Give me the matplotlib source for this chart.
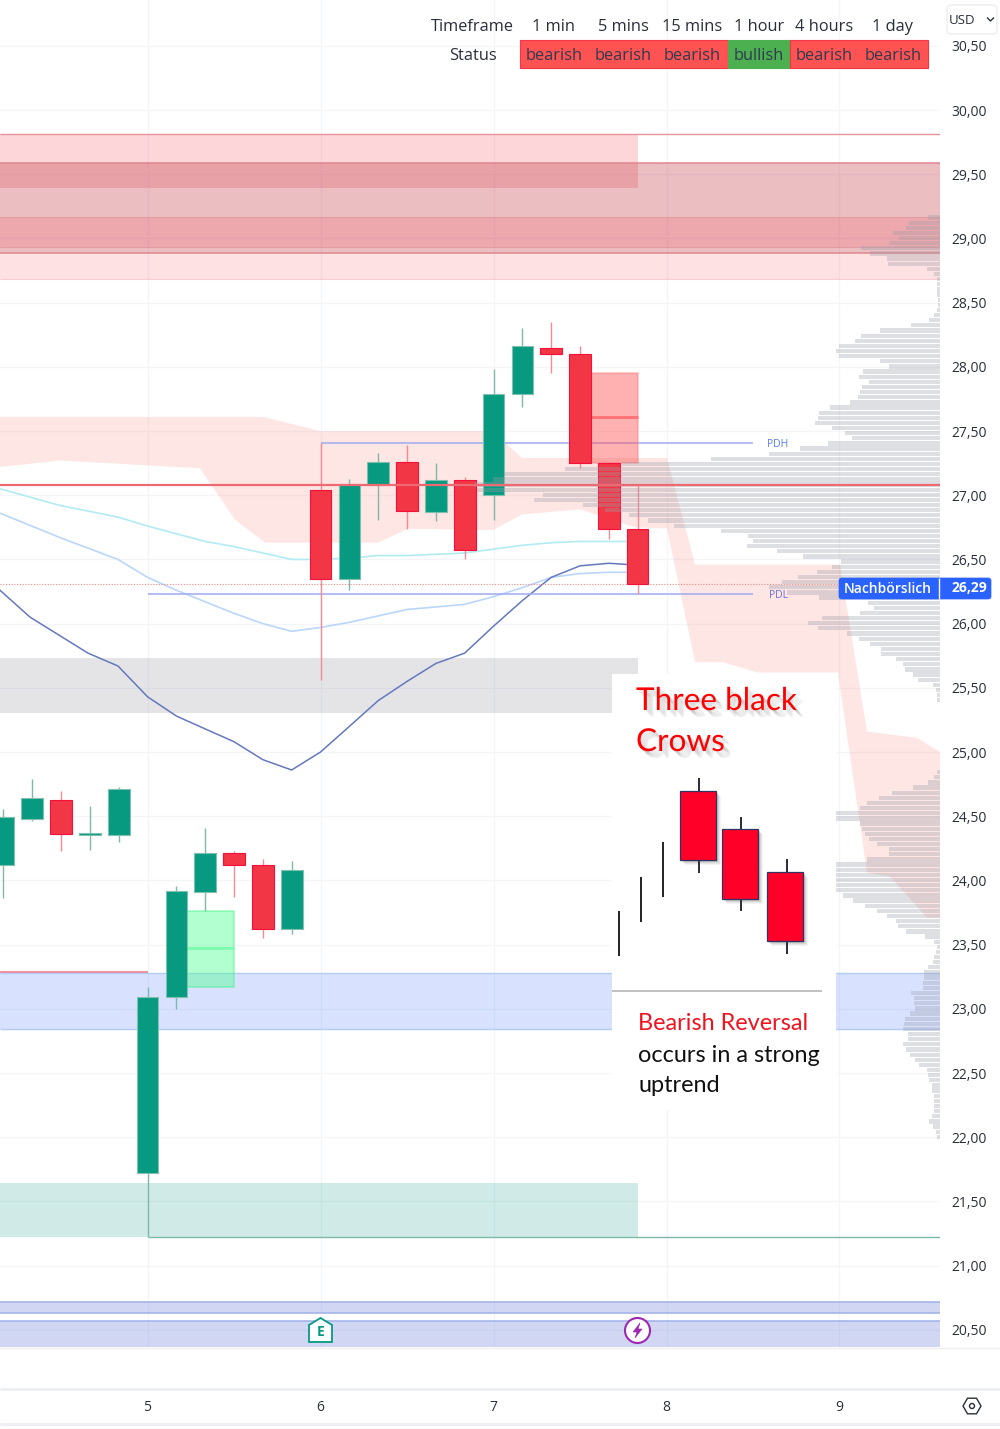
import numpy as np
import matplotlib
matplotlib.use("Agg")
import matplotlib.pyplot as plt
import matplotlib.patheffects as pe
from matplotlib.patches import Rectangle, FancyBboxPatch, Circle, Polygon, RegularPolygon

plt.rcParams['font.family'] = ['Open Sans', 'DejaVu Sans']

# candles, 6 bars per day, index 0 sits on day 5
candle_idx = np.arange(-5, 18)
opens = [24.12, 24.48, 24.63, 24.35, 24.35, 21.72, 23.09, 23.91, 24.21, 24.12, 23.62, 27.04,
         26.35, 27.08, 27.26, 26.87, 27.12, 27.00, 27.79, 28.15, 28.10, 27.25, 26.74]
highs = [24.56, 24.79, 24.70, 24.58, 24.73, 23.17, 23.96, 24.41, 24.23, 24.17, 24.15, 27.41,
         27.13, 27.33, 27.39, 27.25, 27.14, 27.98, 28.30, 28.35, 28.16, 27.25, 27.08]
lows = [23.86, 24.46, 24.23, 24.24, 24.30, 21.22, 23.00, 23.76, 23.87, 23.55, 23.58, 25.56,
        26.26, 26.81, 26.74, 26.80, 26.50, 26.81, 27.69, 27.95, 27.21, 26.66, 26.23]
closes = [24.49, 24.64, 24.36, 24.37, 24.71, 23.09, 23.92, 24.21, 24.12, 23.62, 24.08, 26.35,
          27.09, 27.26, 26.88, 27.12, 26.57, 27.79, 28.16, 28.10, 27.25, 26.74, 26.31]

# moving averages
ma_x = [4.147, 4.494, 4.829, 5.0, 5.167, 5.333, 5.5, 5.667, 5.833, 6.0, 6.167, 6.333,
        6.5, 6.667, 6.833, 7.0, 7.167, 7.333, 7.5, 7.667, 7.78]
ma_cyan = [27.05, 26.92, 26.83, 26.76, 26.70, 26.64, 26.60, 26.55, 26.50, 26.50, 26.51, 26.53,
           26.53, 26.54, 26.55, 26.58, 26.61, 26.63, 26.64, 26.64, 26.64]
ma_light = [26.86, 26.67, 26.50, 26.36, 26.26, 26.17, 26.08, 26.00, 25.94, 25.97, 26.01, 26.06,
            26.11, 26.13, 26.15, 26.21, 26.28, 26.36, 26.39, 26.40, 26.40]
ma_dark_x = [4.147, 4.321, 4.656, 4.829, 5.0, 5.167, 5.333, 5.5, 5.667, 5.833, 6.0, 6.167,
             6.333, 6.5, 6.667, 6.833, 7.0, 7.167, 7.333, 7.5, 7.667, 7.78]
ma_dark = [26.26, 26.05, 25.77, 25.67, 25.43, 25.28, 25.18, 25.08, 24.94, 24.86, 25.00, 25.20,
           25.40, 25.55, 25.69, 25.77, 25.98, 26.18, 26.36, 26.45, 26.47, 26.46]

# cloud outline
cloud_top_x = [4.147, 5.668, 5.997, 6.997, 7.066, 7.165, 8.003, 8.165, 9.003, 9.159, 9.448, 9.581]
cloud_top_y = [27.61, 27.61, 27.50, 27.50, 27.41, 27.29, 27.29, 26.46, 26.46, 25.16, 25.11, 25.00]
cloud_low_x = [4.147, 4.494, 4.899, 5.303, 5.506, 5.679, 6.332, 6.506, 6.835, 6.997, 7.165, 7.5,
               7.818, 8.003, 8.165, 8.327, 8.524, 8.991, 9.159, 9.292, 9.506, 9.581]
cloud_low_y = [27.22, 27.27, 27.24, 27.21, 26.81, 26.63, 26.63, 26.74, 26.73, 26.73, 26.85, 26.89,
               26.75, 26.74, 25.70, 25.70, 25.62, 25.62, 24.06, 24.03, 23.71, 23.71]

# volume profile, one value per level from vp_top downwards
vp_top = 29.163
vp_step = 0.04
vp_volume = [12, 31, 34, 47, 41, 51, 79, 70, 53, 52, 13, 6, 3, 3, 3, 3, 2, 2, 3, 6, 11,
             29, 60, 79, 85, 101, 104, 101, 60, 51, 77, 81, 71, 78, 80, 82, 90, 110, 121, 122, 125,
             108, 95, 88, 112, 140, 171, 229, 318, 375, 436, 447, 466, 463, 397, 406, 357, 335, 311,
             292, 266, 219, 192, 187, 193, 163, 137, 99, 108, 123, 142, 158, 171, 153, 121, 72, 66,
             80, 118, 132, 122, 93, 81, 70, 59, 59, 44, 37, 35, 27, 22, 7, 4, 3, 3,
             0, 0, 0, 0, 0, 0, 0, 0, 0, 0, 0, 0, 0,
             3, 6, 12, 27, 48, 61, 73, 80, 112, 112, 80, 78, 75, 71, 63, 51, 51, 73, 110, 110, 110,
             108, 106, 106, 97, 87, 75, 63, 53, 44, 42, 34, 15, 6, 3, 4, 6, 7, 12, 16, 16, 17, 17,
             29, 26, 26, 25, 30, 35, 36, 37, 32, 32, 37, 34, 30, 25, 21, 13, 12, 11, 8, 8, 6, 6, 6,
             6, 8, 11, 7, 4, 3]

# table at the top
table_head = ["1 min", "5 mins", "15 mins", "1 hour", "4 hours", "1 day"]
table_status = ["bearish", "bearish", "bearish", "bullish", "bearish", "bearish"]

y_ticks = [20.5, 21.0, 21.5, 22.0, 22.5, 23.0, 23.5, 24.0, 24.5, 25.0, 25.5, 26.0, 26.5, 27.0,
           27.5, 28.0, 28.5, 29.0, 29.5, 30.0, 30.5]
x_ticks = [5, 6, 7, 8, 9]

# small picture of the pattern, in panel units
stick_x = [618.7, 641, 663]
stick_top = [911, 877, 842]
stick_low = [956, 922, 897]
crow_x = [698, 739.7, 785.3]
crow_top = [791, 829, 871.7]
crow_low = [860, 898.7, 941]
crow_wick_x = [699, 741, 786.7]
crow_wick_top = [778, 816.7, 859]
crow_wick_low = [873, 911, 953.7]

GREEN = '#089981'
RED = '#F23645'

fig = plt.figure(figsize=(10, 14.29), dpi=100)
ax = fig.add_axes([0, 82 / 1429, 0.94, 1347 / 1429])
ax.set_xlim(4.147, 9.581)
ax.set_ylim(20.366, 30.857)
for s in ax.spines.values():
    s.set_visible(False)

ax.set_xticks(x_ticks)
ax.set_xticklabels([str(t) for t in x_ticks])
ax.set_yticks(y_ticks)
ax.set_yticklabels([f"{t:.2f}".replace('.', ',') for t in y_ticks])
ax.yaxis.tick_right()
ax.tick_params(axis='y', length=0, pad=8.5, labelsize=10, labelcolor='#2a2e39')
ax.tick_params(axis='x', length=0, pad=38, labelsize=10, labelcolor='#2a2e39')
ax.grid(True, color='#F4F5F8', lw=0.9, zorder=0)
ax.set_axisbelow(True)

# supply zones
ax.fill_between([4.147, 7.835], 29.39, 29.817, color='#F23645', alpha=0.2, lw=0, zorder=1)
ax.fill_between([4.147, 9.581], 28.886, 29.587, color='#C02838', alpha=0.3, lw=0, zorder=1)
ax.fill_between([4.147, 9.581], 28.933, 29.167, color='#F23645', alpha=0.16, lw=0, zorder=1)
ax.fill_between([4.147, 9.581], 28.684, 28.886, color='#F23645', alpha=0.15, lw=0, zorder=1)
ax.hlines([29.817], 4.147, 9.581, color='#E8929A', lw=1, zorder=1.2)
ax.hlines([29.587, 28.886], 4.147, 9.581, color='#E0868E', lw=1.1, zorder=1.2)
ax.hlines([29.167, 28.933], 4.147, 9.581, color='#E29CA2', lw=0.8, zorder=1.2)
ax.hlines([28.684], 4.147, 9.581, color='#F8CCD0', lw=0.8, zorder=1.2)

# other zones
ax.fill_between([4.147, 7.835], 25.304, 25.732, color='#787B86', alpha=0.2, lw=0, zorder=1)
ax.fill_between([4.147, 9.581], 22.843, 23.279, color='#2962FF', alpha=0.18, lw=0, zorder=1)
ax.hlines([23.279, 22.843], 4.147, 9.581, color='#B3C9F6', lw=1, zorder=1.2)
ax.hlines([23.29], 4.147, 5.0, color='#EE7C95', lw=1.2, zorder=1.2)
ax.fill_between([4.147, 7.835], 21.223, 21.643, color='#089981', alpha=0.19, lw=0, zorder=1)
ax.hlines([21.223], 5.0, 9.581, color='#7FB8A8', lw=1, zorder=2)
ax.fill_between([4.147, 9.581], 20.628, 20.719, color='#3F5BD0', alpha=0.24, lw=0, zorder=1)
ax.fill_between([4.147, 9.581], 20.366, 20.571, color='#3F5BD0', alpha=0.24, lw=0, zorder=1)
ax.hlines([20.719, 20.628, 20.571], 4.147, 9.581, color='#A5B5EA', lw=1.2, zorder=1.2)

# cloud
ax.fill(cloud_top_x + cloud_low_x[::-1], cloud_top_y + cloud_low_y[::-1],
        color='#F8665C', alpha=0.16, lw=0, zorder=1.5)

# moving averages
ax.plot(ma_x, ma_cyan, color='#B2EBF2', lw=1.2, zorder=2)
ax.plot(ma_x, ma_light, color='#BBD6FB', lw=1.2, zorder=2)
ax.plot(ma_dark_x, ma_dark, color='#6478BE', lw=1.1, zorder=2)

# PDH / PDL
ax.hlines([27.41], 6.0, 8.5, color='#A0AAF0', lw=1.1, zorder=2)
ax.hlines([26.23], 5.0, 8.5, color='#A0AAF0', lw=1.1, zorder=2)
ax.text(8.645, 27.395, "PDH", color='#5B7CF0', fontsize=7.5, ha='center', va='center', zorder=6)
ax.text(8.645, 26.22, "PDL", color='#6A6FE0', fontsize=7.5, ha='center', va='center', zorder=6)
ax.hlines([26.31], 4.147, 9.0, color='#E88A8A', lw=0.8, linestyles=(0, (1, 1.5)), zorder=2)

# fair value boxes
ax.add_patch(Rectangle((7.5, 27.25), 0.335, 0.70, fc='#FF5252', ec='#FF7A80', alpha=0.45, lw=1.2, zorder=2.5))
ax.hlines([27.61], 7.5, 7.835, color='#FF6F75', lw=2, zorder=2.6)
ax.add_patch(Rectangle((5.23, 23.17), 0.27, 0.59, fc='#4DFF91', ec='#33F57E', alpha=0.43, lw=1.2, zorder=2.5))
ax.hlines([23.47], 5.23, 5.5, color='#7BFBAD', lw=2, zorder=2.6)

# candles
x_pos = 5 + candle_idx / 6
o = np.array(opens)
c = np.array(closes)
up = c >= o
wick_col = ['#7FB8A8' if u else '#F58A95' for u in up]
ax.vlines(x_pos, lows, highs, colors=wick_col, lw=1.0, zorder=3)
ax.bar(x_pos, np.abs(c - o), bottom=np.minimum(o, c), width=0.125,
       color=[GREEN if u else RED for u in up],
       edgecolor=['#7FBFAE' if u else '#F5103A' for u in up], linewidth=0.8, zorder=3.2)

# volume profile on top of the candles, anchored on the right edge
vp_y = vp_top - vp_step * np.arange(len(vp_volume))
vp_w = np.array(vp_volume) / 940
ax.barh(vp_y, vp_w, left=1 - vp_w, height=0.033, color='#9A9EA8', alpha=0.33, lw=0,
        transform=ax.get_yaxis_transform(), zorder=4)
ax.set_xlim(4.147, 9.581)
ax.set_ylim(20.366, 30.857)

ax.hlines([27.08], 4.147, 9.581, color='#EE6A72', lw=1.6, zorder=5)

# white panel with the pattern explanation
panel = fig.add_axes([0.612, (1429 - 1110) / 1429, 0.224, 436 / 1429], zorder=2)
panel.set_xlim(612, 836)
panel.set_ylim(1110, 674)
panel.set_facecolor('white')
panel.set_xticks([])
panel.set_yticks([])
for s in panel.spines.values():
    s.set_visible(False)
panel.vlines(stick_x, stick_top, stick_low, color='#222222', lw=1.4, zorder=2)
crow_b = np.array(crow_low) - np.array(crow_top)
for off, a in [(5, 0.05), (4, 0.07), (3, 0.09), (2, 0.12)]:
    panel.bar(np.array(crow_x) + off, crow_b, bottom=np.array(crow_top) + off, width=36,
              color='#333333', alpha=a, lw=0, zorder=1)
panel.vlines(crow_wick_x, crow_wick_top, crow_wick_low, color='#2b2b3a', lw=1.4, zorder=2)
panel.bar(crow_x, crow_b, bottom=crow_top, width=36, color='#FF0029', edgecolor='#2F3560', lw=0.9, zorder=3)
panel.hlines([991], 612, 822, color='#B5B5B5', lw=1.2)
glow = [pe.SimplePatchShadow(offset=(o_, -o_), shadow_rgbFace='#555555', alpha=0.08) for o_ in (1, 2, 3, 4, 5)] + [pe.Normal()]
for txt, yy in [("Three black", 701), ("Crows", 742)]:
    t = panel.text(636, yy, txt, color='#FF0000', fontsize=22.7, family=['Lato', 'DejaVu Sans'], va='center', ha='left')
    t.set_path_effects(glow)
panel.text(638, 1023.5, "Bearish Reversal", color='#F0141E', fontsize=16.9, family=['Lato', 'DejaVu Sans'], va='center')
panel.text(638, 1055, "occurs in a strong", color='#111111', fontsize=16.9, family=['Lato', 'DejaVu Sans'], va='center')
panel.text(638, 1085.5, "uptrend", color='#111111', fontsize=16.9, family=['Lato', 'DejaVu Sans'], va='center')

# chrome drawn in picture pixels: table, tags, icons
ov = fig.add_axes([0, 0, 1, 1], zorder=3)
ov.set_xlim(0, 1000)
ov.set_ylim(1429, 0)
ov.axis('off')

ov.add_patch(Rectangle((520, 40), 208, 28, fc='#FF5252', ec='#F23645', lw=0.8))
ov.add_patch(Rectangle((728, 40), 62, 28, fc='#4CAF50', ec='#4CAF50', lw=0.8))
ov.add_patch(Rectangle((790, 40), 137.5, 28, fc='#FF5252', ec='#F23645', lw=0.8))
ov.text(472.5, 27, "Timeframe", color='#2a2e39', fontsize=11.8, ha='center', va='center')
ov.text(472.5, 56, "Status", color='#2a2e39', fontsize=11.8, ha='center', va='center')
for cx, h, st in zip([554, 623, 692, 759, 824, 893], table_head, table_status):
    ov.text(cx, 27, h, color='#2a2e39', fontsize=11.8, ha='center', va='center')
    ov.text(cx, 56, st, color='#2f3a4f', fontsize=11.8, ha='center', va='center')

ov.add_patch(FancyBboxPatch((947, 5), 50, 29, boxstyle='round,pad=0,rounding_size=4', fc='white', ec='#ECEDF0', lw=1))
ov.text(962, 20, "USD", color='#2a2e39', fontsize=9.5, ha='center', va='center')
ov.plot([987.5, 990.5, 993.5], [18, 21, 18], color='#2a2e39', lw=1)

ov.add_patch(FancyBboxPatch((839, 578), 152, 21, boxstyle='round,pad=0,rounding_size=2.5', fc='#2962FF', ec='#2962FF', lw=0.5))
ov.vlines([939], 578, 599, color='white', lw=1)
ov.text(888, 589, "Nachbörslich", color='white', fontsize=10, weight='semibold', ha='center', va='center')
ov.text(969, 588, "26,29", color='white', fontsize=10, weight='bold', ha='center', va='center')

# earnings and split markers
ov.add_patch(Polygon([(320.5, 1318), (332, 1325), (332, 1342), (309, 1342), (309, 1325)],
                     closed=True, fc='white', ec=GREEN, lw=1.3))
ov.text(320.5, 1332, "E", color=GREEN, fontsize=10, weight='bold', ha='center', va='center')
ov.add_patch(Circle((637.5, 1330.5), 12.5, fc='white', ec='#9C27B0', lw=1.5))
ov.add_patch(Polygon([(640, 1323), (633, 1332), (637, 1332), (635, 1338), (642, 1329), (638, 1329)],
                     closed=True, fc='#9C27B0', ec='#9C27B0', lw=0.4))

# separators of the time axis and settings icon
ov.hlines([1347.5], 0, 1000, color='#EFEFF2', lw=1)
ov.hlines([1388.5, 1423.5], 0, 1000, color='#EEEFF3', lw=2)
ov.add_patch(RegularPolygon((972, 1406), 6, radius=9, orientation=np.pi / 2, fc='white', ec='#2a2e39', lw=1))
ov.add_patch(Circle((972, 1406), 2.5, fc='white', ec='#2a2e39', lw=1))

fig.savefig("out.png", dpi=100)
